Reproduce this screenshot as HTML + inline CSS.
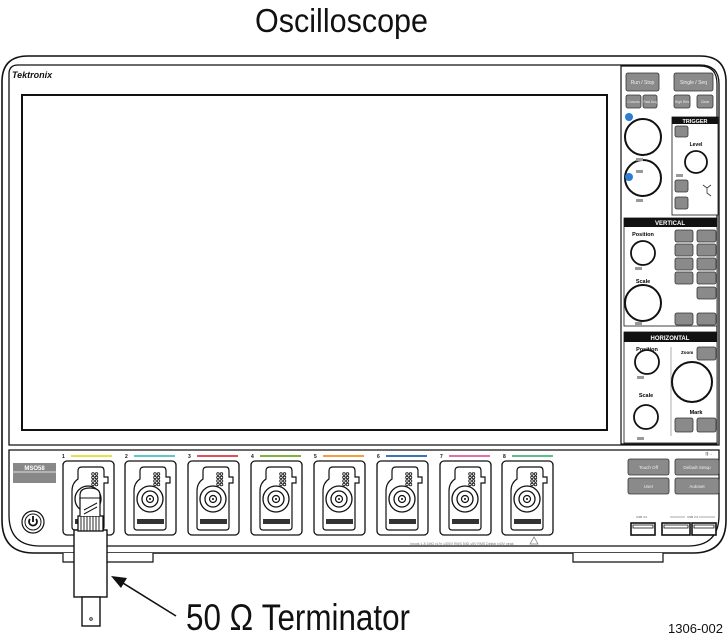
<!DOCTYPE html>
<html><head><meta charset="utf-8"><style>
html,body{margin:0;padding:0;background:#fff}
svg{display:block}
text{font-family:"Liberation Sans",Arial,sans-serif}
</style></head><body>
<svg width="728" height="641" viewBox="0 0 728 641" xmlns="http://www.w3.org/2000/svg">
<defs>
<g id="mod">
  <rect x="0" y="0" width="51" height="74" rx="4" fill="#fff" stroke="#111" stroke-width="1.3"/>
  <path d="M9 66 L9 30 Q9 22 15 18 L15 10 Q15 6 19 6 L38 6 Q41 6 41 10 L41 16 L45 16 L45 22 L41 22 L41 66 Q41 69 38 69 L12 69 Q9 69 9 66 Z" fill="#fff" stroke="#111" stroke-width="1.2"/>
  <circle cx="25" cy="38" r="13" fill="#fff" stroke="#111" stroke-width="1.3"/>
  <circle cx="25" cy="38" r="8" fill="#fff" stroke="#111" stroke-width="1.3"/>
  <circle cx="25" cy="38" r="3.5" fill="#fff" stroke="#111" stroke-width="1.2"/>
  <circle cx="25" cy="38" r="1" fill="#111"/>
  <g fill="none" stroke="#111" stroke-width="0.8">
   <circle cx="30" cy="13" r="1.3"/><circle cx="33.5" cy="13" r="1.3"/>
   <circle cx="30" cy="16.5" r="1.3"/><circle cx="33.5" cy="16.5" r="1.3"/>
   <circle cx="30" cy="20" r="1.3"/><circle cx="33.5" cy="20" r="1.3"/>
   <circle cx="30" cy="23.5" r="1.3"/><circle cx="33.5" cy="23.5" r="1.3"/>
  </g>
  <rect x="12" y="58" width="27" height="5" fill="#333"/>
</g>
</defs>

<text x="255" y="32" font-size="33" textLength="173" lengthAdjust="spacingAndGlyphs" fill="#111">Oscilloscope</text>

<path d="M28 56 L700 56 Q726 56 726 82 L726 520 Q726 553 693 553 L34 553 Q2 553 2 520 L2 82 Q2 56 28 56 Z" fill="#fff" stroke="#111" stroke-width="1.6"/>
<path d="M18 65 L700 65 Q719 65 719 84 L719 445 L9 445 L9 74 Q9 65 18 65 Z" fill="#fff" stroke="#111" stroke-width="1.3"/>
<path d="M9 450 L719 450 L719 515 Q719 546 688 546 L40 546 Q9 546 9 515 Z" fill="#fff" stroke="#111" stroke-width="1.3"/>
<path d="M63 553 L63 562 L153 562 L153 553" fill="#fff" stroke="#111" stroke-width="1.2"/>
<path d="M573 553 L573 562 L663 562 L663 553" fill="#fff" stroke="#111" stroke-width="1.2"/>

<text x="12" y="78" font-size="9" font-weight="bold" fill="#111" font-style="italic">Tektronix</text>
<rect x="22" y="95" width="585" height="335" fill="#fff" stroke="#111" stroke-width="2"/>

<path d="M621 66 L700 66 Q717 66 717 84 L717 444 L621 444 Z" fill="#fff" stroke="#111" stroke-width="1.2"/>
<g fill="#8a8a8a" stroke="#333" stroke-width="0.8">
 <rect x="626" y="73" width="33" height="18" rx="2"/>
 <rect x="674" y="73" width="39" height="18" rx="2"/>
 <rect x="626" y="95" width="15" height="13" rx="2"/>
 <rect x="643" y="95" width="14" height="13" rx="2"/>
 <rect x="674" y="95" width="16" height="13" rx="2"/>
 <rect x="697" y="95" width="16" height="13" rx="2"/>
</g>
<g fill="#eee" font-size="5" text-anchor="middle">
 <text x="642.5" y="84">Run / Stop</text><text x="693.5" y="84">Single / Seq</text>
 <text x="633.5" y="103" font-size="3.5">Cursors</text><text x="650" y="103" font-size="3.5">Fast Acq</text>
 <text x="682" y="103" font-size="3.5">High Res</text><text x="705" y="103" font-size="3.5">Clear</text>
</g>
<circle cx="643" cy="137" r="18" fill="#fff" stroke="#111" stroke-width="2"/>
<circle cx="629" cy="117" r="4" fill="#2a7fd4"/>
<circle cx="643" cy="178" r="18" fill="#fff" stroke="#111" stroke-width="2"/>
<circle cx="629" cy="177" r="4" fill="#2a7fd4"/>
<rect x="636" y="158" width="7" height="3" fill="#999"/><rect x="636" y="170" width="7" height="3" fill="#999"/>
<rect x="636" y="199" width="7" height="3" fill="#999"/>
<rect x="672" y="117" width="46" height="98" fill="#fff" stroke="#111" stroke-width="0.8"/>
<rect x="672" y="117" width="46" height="7" fill="#111"/>
<text x="695" y="123" font-size="5.5" fill="#fff" text-anchor="middle" font-weight="bold">TRIGGER</text>
<g fill="#8a8a8a" stroke="#333" stroke-width="0.8">
 <rect x="675" y="126" width="13" height="11" rx="2"/>
 <rect x="675" y="180" width="13" height="12" rx="2"/>
 <rect x="675" y="197" width="13" height="12" rx="2"/>
</g>
<text x="696" y="146" font-size="5" text-anchor="middle" font-weight="bold">Level</text>
<circle cx="696" cy="162" r="11" fill="#fff" stroke="#111" stroke-width="1.8"/>
<rect x="676" y="174" width="7" height="3" fill="#999"/>
<path d="M703 185 L707 188 L711 185 M707 188 L707 193 L711 196" fill="none" stroke="#333" stroke-width="0.8"/>
<rect x="624" y="218" width="93" height="108" fill="#fff" stroke="#111" stroke-width="0.8"/>
<rect x="624" y="218" width="93" height="9" fill="#111"/>
<text x="670" y="225" font-size="6" fill="#fff" text-anchor="middle" font-weight="bold">VERTICAL</text>
<text x="643" y="236" font-size="5.5" text-anchor="middle" font-weight="bold">Position</text>
<circle cx="643" cy="253" r="12" fill="#fff" stroke="#111" stroke-width="1.8"/>
<rect x="635" y="267" width="7" height="3" fill="#999"/>
<text x="643" y="283" font-size="5.5" text-anchor="middle" font-weight="bold">Scale</text>
<circle cx="643" cy="303" r="18" fill="#fff" stroke="#111" stroke-width="2"/>
<rect x="635" y="322" width="7" height="3" fill="#999"/>
<g fill="#8a8a8a" stroke="#333" stroke-width="0.8">
 <rect x="675" y="230" width="18" height="12" rx="2"/><rect x="697" y="230" width="19" height="12" rx="2"/>
 <rect x="675" y="244" width="18" height="12" rx="2"/><rect x="697" y="244" width="19" height="12" rx="2"/>
 <rect x="675" y="258" width="18" height="12" rx="2"/><rect x="697" y="258" width="19" height="12" rx="2"/>
 <rect x="675" y="272" width="18" height="12" rx="2"/><rect x="697" y="272" width="19" height="12" rx="2"/>
 <rect x="697" y="287" width="19" height="12" rx="2"/>
 <rect x="675" y="313" width="18" height="12" rx="2"/><rect x="697" y="313" width="19" height="12" rx="2"/>
</g>
<rect x="624" y="332" width="93" height="111" fill="#fff" stroke="#111" stroke-width="0.8"/>
<rect x="624" y="332" width="93" height="10" fill="#111"/>
<text x="670" y="340" font-size="6" fill="#fff" text-anchor="middle" font-weight="bold">HORIZONTAL</text>
<text x="647" y="351" font-size="5.5" text-anchor="middle" font-weight="bold">Position</text>
<circle cx="647" cy="362" r="12" fill="#fff" stroke="#111" stroke-width="1.8"/>
<rect x="637" y="376" width="7" height="3" fill="#999"/>
<text x="646" y="397" font-size="5.5" text-anchor="middle" font-weight="bold">Scale</text>
<circle cx="646" cy="417" r="12" fill="#fff" stroke="#111" stroke-width="1.8"/>
<rect x="637" y="437" width="7" height="3" fill="#999"/>
<line x1="671" y1="347" x2="671" y2="436" stroke="#999" stroke-width="0.8"/>
<text x="681" y="354" font-size="4.5" font-weight="bold">Zoom</text>
<rect x="697" y="347" width="19" height="13" rx="2" fill="#8a8a8a" stroke="#333" stroke-width="0.8"/>
<circle cx="692" cy="382" r="20" fill="#fff" stroke="#111" stroke-width="2"/>
<text x="696" y="414" font-size="5.5" text-anchor="middle" font-weight="bold">Mark</text>
<rect x="675" y="418" width="18" height="14" rx="2" fill="#8a8a8a" stroke="#333" stroke-width="0.8"/>
<rect x="697" y="418" width="19" height="14" rx="2" fill="#8a8a8a" stroke="#333" stroke-width="0.8"/>

<rect x="13" y="463" width="43" height="20" fill="#888"/>
<line x1="13" y1="472" x2="56" y2="472" stroke="#fff" stroke-width="0.8"/>
<text x="34.5" y="470" font-size="6" fill="#fff" text-anchor="middle" font-weight="bold">MSO58</text>
<circle cx="33" cy="522" r="11" fill="#fff" stroke="#111" stroke-width="1.2"/>
<circle cx="33" cy="522" r="8" fill="#fff" stroke="#111" stroke-width="1"/>
<path d="M30 519 A4 4 0 1 0 36 519" fill="none" stroke="#111" stroke-width="1.8"/>
<line x1="33" y1="516" x2="33" y2="522" stroke="#111" stroke-width="1.8"/>

<g font-size="5" font-weight="bold" fill="#111">
 <text x="62" y="458">1</text><text x="125" y="458">2</text><text x="188" y="458">3</text><text x="251" y="458">4</text>
 <text x="314" y="458">5</text><text x="377" y="458">6</text><text x="440" y="458">7</text><text x="503" y="458">8</text>
</g>
<g stroke-width="2">
 <line x1="71" y1="456" x2="112" y2="456" stroke="#e8e04a"/>
 <line x1="134" y1="456" x2="175" y2="456" stroke="#5fc7c9"/>
 <line x1="197" y1="456" x2="238" y2="456" stroke="#e05058"/>
 <line x1="260" y1="456" x2="301" y2="456" stroke="#7fb340"/>
 <line x1="323" y1="456" x2="364" y2="456" stroke="#f0a040"/>
 <line x1="386" y1="456" x2="427" y2="456" stroke="#3d74b8"/>
 <line x1="449" y1="456" x2="490" y2="456" stroke="#e070a8"/>
 <line x1="512" y1="456" x2="553" y2="456" stroke="#5fbf8a"/>
</g>
<use href="#mod" x="63" y="461"/>
<use href="#mod" x="125" y="461"/>
<use href="#mod" x="188" y="461"/>
<use href="#mod" x="251" y="461"/>
<use href="#mod" x="314" y="461"/>
<use href="#mod" x="377" y="461"/>
<use href="#mod" x="440" y="461"/>
<use href="#mod" x="502" y="461"/>
<text x="410" y="545" font-size="3.5" fill="#777">Inputs 1-8   1MΩ ±1% ≤300V RMS   50Ω ≤5V RMS   Digital ±40V peak</text>
<path d="M530 544 L534 537 L538 544 Z" fill="none" stroke="#777" stroke-width="0.7"/>

<g fill="#8a8a8a" stroke="#333" stroke-width="0.8">
 <rect x="628" y="459" width="41" height="16" rx="2"/><rect x="675" y="459" width="44" height="16" rx="2"/>
 <rect x="628" y="478" width="41" height="16" rx="2"/><rect x="675" y="478" width="44" height="16" rx="2"/>
</g>
<g fill="#eee" font-size="4.5" text-anchor="middle">
 <text x="648.5" y="469">Touch Off</text><text x="697" y="469">Default Setup</text>
 <text x="648.5" y="488">User</text><text x="697" y="488">Autoset</text>
</g>
<text x="705" y="455" font-size="4" fill="#555">⇶→</text>
<text x="636" y="518" font-size="3" fill="#555">USB 3.0</text>
<line x1="670" y1="517" x2="715" y2="517" stroke="#555" stroke-width="0.5"/>
<rect x="685" y="515" width="14" height="4" fill="#fff"/>
<text x="687" y="518" font-size="3" fill="#555">USB 2.0</text>
<g fill="#fff" stroke="#111" stroke-width="1.6">
 <rect x="631" y="523" width="24" height="12"/><rect x="662" y="523" width="28" height="12"/><rect x="692" y="523" width="24" height="12"/>
</g>
<g fill="#fff" stroke="#111" stroke-width="0.8">
 <rect x="633" y="525" width="20" height="3"/><rect x="664" y="525" width="24" height="3"/><rect x="694" y="525" width="20" height="3"/>
</g>

<rect x="74" y="530" width="33" height="67" fill="#fff" stroke="#111" stroke-width="1.4"/>
<rect x="82" y="597" width="18" height="29" fill="#fff" stroke="#111" stroke-width="1.4"/>
<circle cx="91" cy="619" r="1.3" fill="#fff" stroke="#111" stroke-width="0.8"/>
<rect x="78" y="516" width="25" height="15" fill="#fff" stroke="#111" stroke-width="1.3"/>
<g stroke="#111" stroke-width="0.9">
 <line x1="81" y1="516" x2="81" y2="531"/><line x1="84" y1="516" x2="84" y2="531"/><line x1="87" y1="516" x2="87" y2="531"/>
 <line x1="90" y1="516" x2="90" y2="531"/><line x1="93" y1="516" x2="93" y2="531"/><line x1="96" y1="516" x2="96" y2="531"/>
 <line x1="99" y1="516" x2="99" y2="531"/>
</g>
<path d="M80 516 L80 495 Q80 488 90 488 Q100 488 100 495 L100 516" fill="#fff" stroke="#111" stroke-width="1.2"/>
<line x1="80" y1="498" x2="100" y2="498" stroke="#111" stroke-width="1"/>
<path d="M84 510 L97 503" stroke="#111" stroke-width="1" fill="none"/>
<path d="M84 514 L97 507" stroke="#111" stroke-width="1" fill="none"/>

<line x1="176" y1="616" x2="118" y2="580" stroke="#111" stroke-width="1.6"/>
<path d="M111 576 L127 578 L121 588 Z" fill="#111"/>
<text x="186" y="630" font-size="37" textLength="224" lengthAdjust="spacingAndGlyphs" fill="#111">50 Ω Terminator</text>
<text x="668" y="633" font-size="13" fill="#111">1306-002</text>
</svg>
</body></html>
